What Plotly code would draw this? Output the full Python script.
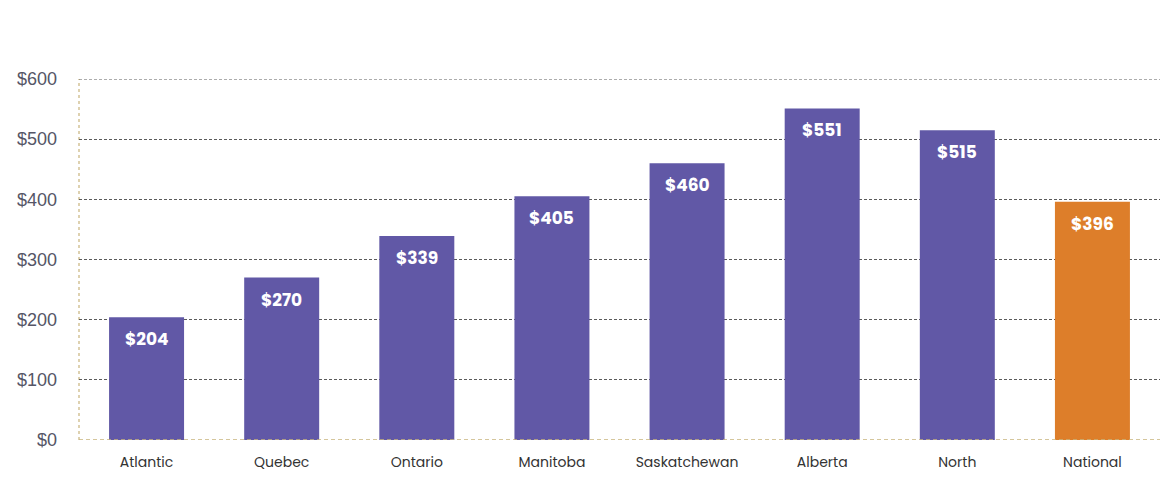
import plotly.graph_objects as go

# regions and average amounts ($)
regions = ["Atlantic", "Quebec", "Ontario", "Manitoba", "Saskatchewan",
           "Alberta", "North", "National"]
amounts = [204, 270, 339, 405, 460, 551, 515, 396]

purple = "#6158a6"
orange = "#dd7e2a"
bar_colors = [orange if r == "National" else purple for r in regions]

fig = go.Figure()
fig.add_trace(go.Bar(
    x=regions,
    y=amounts,
    marker_color=bar_colors,
    marker_line_width=0,
    width=0.555,
    hoverinfo="x+y",
))

# value labels just under the top of each bar
for r, v in zip(regions, amounts):
    fig.add_annotation(
        x=r, y=v, text="$" + str(v), showarrow=False,
        yanchor="top", yshift=-8,
        font=dict(family="Poppins, Open Sans, sans-serif", size=17, color="white", weight="bold"),
    )

# dashed tan axis lines (zero line and left edge) + top gridline
tan = "#c8b47c"
fig.add_shape(type="line", xref="paper", yref="y", x0=0, x1=1, y0=0, y1=0,
              line=dict(color=tan, width=1.3, dash="4px,3px"), layer="above")
fig.add_shape(type="line", xref="paper", yref="paper", x0=0, x1=0, y0=0, y1=1,
              line=dict(color=tan, width=1.2, dash="3px,3px"), layer="below")
fig.add_shape(type="line", xref="paper", yref="y", x0=0, x1=1, y0=600, y1=600,
              line=dict(color="#5a5a5a", width=1, dash="3px,2px"), layer="below")

fig.update_yaxes(
    range=[0, 600],
    dtick=100,
    tickprefix="$",
    showgrid=True,
    gridcolor="#5a5a5a",
    griddash="3px,2px",
    gridwidth=1,
    zeroline=False,
    showline=False,
    tickfont=dict(family="Liberation Sans, Arial, sans-serif", size=18, color="#555566"),
    ticklabelstandoff=21,
)
fig.update_xaxes(
    showgrid=False,
    showline=False,
    tickfont=dict(family="Poppins, Open Sans, sans-serif", size=14, color="#333333"),
    ticklabelstandoff=12,
)

fig.update_layout(
    width=1170,
    height=500,
    margin=dict(l=71, r=18, t=71, b=68, autoexpand=False),
    paper_bgcolor="white",
    plot_bgcolor="white",
    showlegend=False,
)

fig.write_html("out.html")
